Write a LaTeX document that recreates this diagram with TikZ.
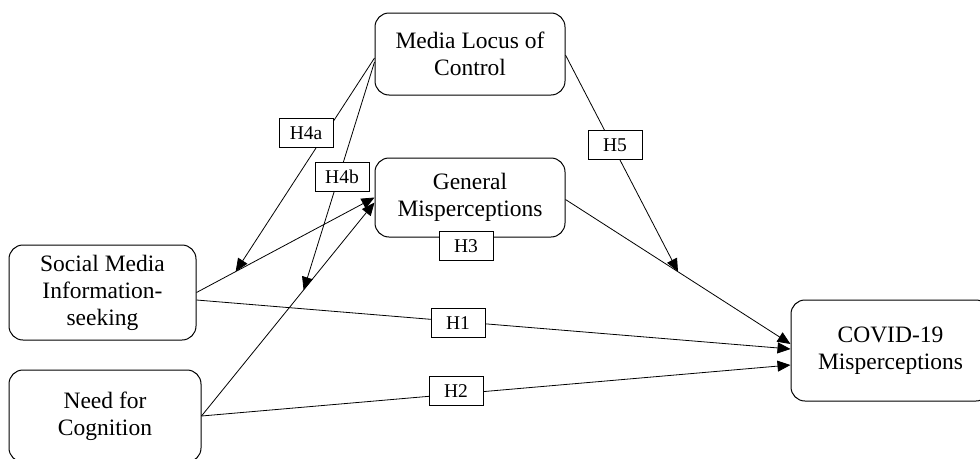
\documentclass[tikz,border=0pt]{standalone}
\usepackage{fontspec}
\setmainfont{Liberation Serif}
\usetikzlibrary{arrows.meta,calc}
\begin{document}
\begin{tikzpicture}[x=1pt,y=-1pt,
  box/.style={draw, line width=1pt, rounded corners=14pt, align=center,
    font=\fontsize{23.5}{27}\selectfont, inner sep=0pt},
  hyp/.style={draw, line width=0.9pt, fill=white, font=\fontsize{19.5}{21}\selectfont,
    minimum width=54pt, minimum height=29pt, inner sep=0pt},
  conn/.style={line width=0.8pt, -{Triangle[length=13pt,width=11pt]}}]
\useasboundingbox (0,0) rectangle (980,458);
% main boxes
\node[box, minimum width=190pt, minimum height=82pt] (MLC) at (470,54) {Media Locus of\\Control};
\node[box, minimum width=190pt, minimum height=79pt] (GM) at (470,197.5) {General\\Misperceptions};
\node[box, minimum width=187pt, minimum height=95pt] (SM) at (102.5,292.5) {Social Media\\Information-\\seeking};
\node[box, minimum width=192pt, minimum height=92pt] (NFC) at (105,416) {Need for\\Cognition};
\node[box, minimum width=199pt, minimum height=101pt] (COVID) at (890.5,350.5) {COVID-19\\Misperceptions};
% connectors
\draw[conn] (SM.east) -- (GM.west);
\draw[conn] (NFC.east) -- ([yshift=-5pt]GM.west);
\draw[conn] ([yshift=-7.5pt]SM.east) -- ([yshift=1.5pt]COVID.west);
\draw[conn] (NFC.east) -- ([yshift=-14.5pt]COVID.west);
\draw[conn] ([yshift=-2pt]GM.east) -- ([yshift=6.5pt]COVID.west);
\draw[conn] ([yshift=-4pt]MLC.west) -- ($(SM.east)!0.22!(GM.west)$);
\draw[conn] ([yshift=-8pt]MLC.west) -- ($(NFC.east)!0.59!([yshift=-5pt]GM.west)$);
\draw[conn] ([yshift=-1pt]MLC.east) -- ($([yshift=-2pt]GM.east)!0.5!([yshift=6.5pt]COVID.west)$);
% hypothesis labels
\node[hyp] (H4a) at (306,133) {H4a};
\node[hyp] (H4b) at (342,177) {H4b};
\node[hyp] (H3) at (466,246) {H3};
\node[hyp] (H5) at (615,145) {H5};
\node[hyp] (H1) at (458,323) {H1};
\node[hyp] (H2) at (456,391) {H2};
\end{tikzpicture}
\end{document}
